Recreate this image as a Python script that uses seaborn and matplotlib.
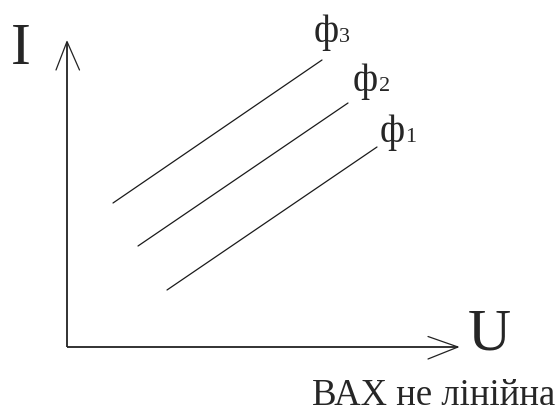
import matplotlib
matplotlib.use("Agg")
import matplotlib.pyplot as plt
import seaborn as sns
import pandas as pd

# ---- data (origin at the axes corner) ----
curve_names = ["ф1", "ф2", "ф3"]
u_start = [100, 71, 46]
u_end = [310, 281, 255]
i_start = [57, 101, 144]
i_end = [200, 244, 287]
label_main = ["ф", "ф", "ф"]
label_index = ["1", "2", "3"]
x_axis_label = "U"
y_axis_label = "I"
caption = "ВАХ не лінійна"

rows = []
for n, u0, u1, i0, i1 in zip(curve_names, u_start, u_end, i_start, i_end):
    rows.append({"phi": n, "U": u0, "I": i0})
    rows.append({"phi": n, "U": u1, "I": i1})
df = pd.DataFrame(rows)

sns.set_style("white")
plt.rcParams["font.family"] = ["Liberation Serif", "DejaVu Serif"]

fig = plt.figure(figsize=(5.6, 4.12), dpi=100)
ax = fig.add_axes([0, 0, 1, 1])
ax.set_xlim(-67, 493)
ax.set_ylim(-65, 347)
ax.axis("off")

sns.lineplot(data=df, x="U", y="I", hue="phi", units="phi", estimator=None,
             palette=["#1a1a1a"] * 3, linewidth=0.9, legend=False, ax=ax,
             sort=False)

# axes with open arrowheads
ax_col = "#222222"
ax.plot([0, 0], [0, 305.5], color=ax_col, lw=1.3, solid_capstyle="butt")
ax.plot([0, 391], [0, 0], color=ax_col, lw=1.3, solid_capstyle="butt")
ax.plot([-11, 0, 12.5], [277, 305.5, 277], color=ax_col, lw=0.9)
ax.plot([361, 391, 361], [10.5, 0, -12], color=ax_col, lw=0.9)

# axis letters
ax.text(-56, 283, y_axis_label, fontsize=43, ha="left", va="baseline")
ax.text(401, -2, x_axis_label, fontsize=43, ha="left", va="baseline")

# curve labels
main_pos = [(313, 205), (286, 256), (247, 305)]
idx_x = [338, 312, 272]
for m, s, (lx, ly), dx in zip(label_main, label_index, main_pos, idx_x):
    ax.text(lx, ly, m, fontsize=28, ha="left", va="baseline")
    ax.text(dx, ly, s, fontsize=16, ha="left", va="baseline")

ax.text(245, -58, caption, fontsize=26.5, ha="left", va="baseline")

fig.savefig("out.png", dpi=100)
